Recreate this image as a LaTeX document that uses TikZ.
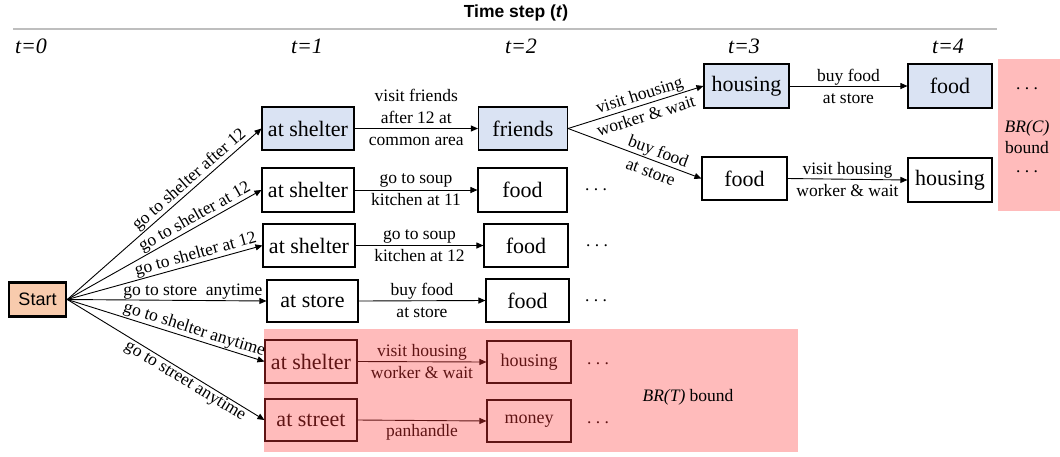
\documentclass[tikz,border=0pt]{standalone}
\usepackage{fontspec}
\setmainfont{Liberation Serif}
\newfontfamily\arialfont{Liberation Sans}
\usetikzlibrary{arrows.meta}
\definecolor{bluefill}{HTML}{DAE3F3}
\definecolor{orangefill}{HTML}{F8CBAD}
\definecolor{pinkfill}{HTML}{FFBBBB}
\definecolor{darkred}{RGB}{95,20,20}
\definecolor{rulegray}{RGB}{190,190,190}
\begin{document}
\begin{tikzpicture}[x=1pt,y=-1pt,
  stbox/.style={draw, line width=1.1pt, minimum height=43pt, inner sep=0pt, font=\fontsize{22}{26}\selectfont},
  smbox/.style={stbox, font=\fontsize{18}{22}\selectfont},
  redbox/.style={draw=darkred, text=darkred},
  elabel/.style={font=\fontsize{17.5}{22}\selectfont, inner sep=1pt},
  slabel/.style={font=\fontsize{17.5}{20}\selectfont, inner sep=0.5pt},
  tlabel/.style={font=\fontsize{22}{26}\selectfont\itshape},
  dotlabel/.style={font=\fontsize{17.5}{22}\selectfont, inner sep=0pt},
  arr/.style={-{Triangle[length=7pt,width=6pt]}, line width=0.9pt},
  redarr/.style={arr, draw=darkred}]
\useasboundingbox (0,0) rectangle (1060,456);
% background regions
\fill[pinkfill] (264,329) rectangle (798,452);
\fill[pinkfill] (998,59) rectangle (1060,211);
% header
\node[font=\arialfont\bfseries\fontsize{17.5}{20}\selectfont] (title) at (516,13) {Time step (\textit{t})};
\draw[rulegray, line width=1.5pt] (13,29) -- (997,29);
\node[tlabel] (t0) at (31,46) {t=0};
\node[tlabel] (t1) at (307,46) {t=1};
\node[tlabel] (t2) at (521,46) {t=2};
\node[tlabel] (t3) at (744,46) {t=3};
\node[tlabel] (t4) at (948,46) {t=4};
% nodes
\node[draw, line width=2.6pt, fill=orangefill, minimum width=57pt, minimum height=34pt, inner sep=0pt, font=\arialfont\fontsize{18}{22}\selectfont] (start) at (37.5,299.5) {Start};
\node[stbox, fill=bluefill, minimum width=92pt] (s1) at (308,128.5) {at shelter};
\node[stbox, fill=bluefill, minimum width=89pt] (fr) at (523,128.5) {friends};
\node[stbox, fill=bluefill, minimum width=85pt, minimum height=44pt] (h3) at (746.5,86) {housing};
\node[stbox, fill=bluefill, minimum width=84pt, minimum height=44pt] (f4) at (950,86) {food};
\node[stbox, minimum width=85pt] (f3) at (744.5,178.5) {food};
\node[stbox, minimum width=84pt, minimum height=44pt] (h4) at (950,180) {housing};
\node[stbox, minimum width=92pt, minimum height=44pt] (s2) at (308,190) {at shelter};
\node[stbox, minimum width=89pt, minimum height=44pt] (f2) at (522.5,190) {food};
\node[stbox, minimum width=92pt] (s3) at (309,245.5) {at shelter};
\node[stbox, minimum width=84pt] (f3r) at (526,245.5) {food};
\node[stbox, minimum width=91pt, minimum height=42pt] (st) at (312.5,301) {at store};
\node[stbox, minimum width=83pt] (f4r) at (527.5,300.5) {food};
\node[stbox, redbox, minimum width=92pt] (s5) at (311,361.5) {at shelter};
\node[smbox, redbox, minimum width=84pt, minimum height=42pt] (hs5) at (529,362) {housing};
\node[stbox, redbox, minimum width=92pt, minimum height=42pt] (sst) at (311,420) {at street};
\node[smbox, redbox, minimum width=84pt, minimum height=42pt] (mon) at (529,421) {money};
% dots and bounds
\node[dotlabel] (d2) at (596,190) {.\ .\ .};
\node[dotlabel] (d3) at (597,246) {.\ .\ .};
\node[dotlabel] (d4) at (596,301) {.\ .\ .};
\node[dotlabel, text=darkred] (d5) at (598,364) {.\ .\ .};
\node[dotlabel, text=darkred] (d6) at (598,423) {.\ .\ .};
\node[dotlabel] (dc1) at (1027,89) {.\ .\ .};
\node[dotlabel] (dc2) at (1027,172) {.\ .\ .};
\node[font=\fontsize{17.5}{21}\selectfont, align=center, inner sep=0pt] (brc) at (1027,137) {\textit{BR(C)}\\bound};
\node[font=\fontsize{17.5}{21}\selectfont, inner sep=0pt] (brt) at (688,397) {\textit{BR(T)} bound};
% start edges
\draw[arr] (start.east) -- (s1.west) node[slabel, sloped, above, pos=0.66] {go to shelter after 12};
\draw[arr] (start.east) -- (s2.west) node[slabel, sloped, above, pos=0.68] {go to shelter at 12};
\draw[arr] (start.east) -- (s3.west) node[slabel, sloped, above, pos=0.67] {go to shelter at 12};
\draw[arr] (start.east) -- (st.west) node[slabel, above, pos=0.63] {go to store\ \ anytime};
\draw[arr] (start.east) -- (s5.west) node[slabel, sloped, above, pos=0.63] {go to shelter anytime};
\draw[arr] (start.east) -- (sst.west) node[slabel, sloped, below, pos=0.62] {go to street anytime};
% row edges
\draw[arr] (s1.east) -- (fr.west) node[elabel, align=center, midway, yshift=11pt] {visit friends\\after 12 at\\common area};
\draw[arr] (fr.east) -- (h3.west) node[elabel, align=center, sloped, pos=0.55] {visit housing\\worker \& wait};
\draw[arr] (fr.east) -- (f3.west) node[elabel, align=center, sloped, pos=0.65] {buy food\\at store};
\draw[arr] (h3.east) -- (f4.west) node[elabel, align=center, midway] {buy food\\at store};
\draw[arr] (f3.east) -- (h4.west) node[elabel, align=center, midway] {visit housing\\worker \& wait};
\draw[arr] (s2.east) -- (f2.west) node[elabel, align=center, midway] {go to soup\\kitchen at 11};
\draw[arr] (s3.east) -- (f3r.west) node[elabel, align=center, midway] {go to soup\\kitchen at 12};
\draw[arr] (st.east) -- (f4r.west) node[elabel, align=center, midway] {buy food\\at store};
\draw[redarr] (s5.east) -- (hs5.west) node[elabel, text=darkred, align=center, midway] {visit housing\\worker \& wait};
\draw[redarr] (sst.east) -- (mon.west) node[elabel, text=darkred, midway, below=2pt] {panhandle};
\end{tikzpicture}
\end{document}
